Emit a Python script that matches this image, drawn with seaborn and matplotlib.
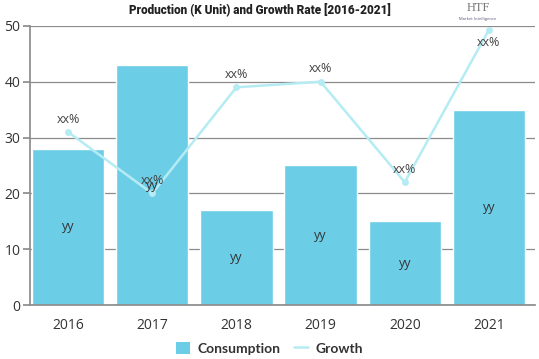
import numpy as np
import pandas as pd
import matplotlib
matplotlib.use("Agg")
import matplotlib.pyplot as plt
import seaborn as sns
from matplotlib.patches import Patch
from matplotlib.lines import Line2D

# data
years = ["2016", "2017", "2018", "2019", "2020", "2021"]
consumption = [28, 43, 17, 25, 15, 35]
growth = [31, 20, 39, 40, 22, 49.3]
bar_labels = ["yy"] * 6
growth_labels = ["xx%"] * 6

BAR_COLOR = "#6ccde7"
LINE_COLOR = "#b5ecf4"
TEXT_COLOR = "#333333"

sns.set_theme(style="white")
plt.rcParams["font.family"] = ["Open Sans", "DejaVu Sans"]

df = pd.DataFrame({"year": years, "consumption": consumption, "growth": growth})

fig = plt.figure(figsize=(5.39, 3.59), dpi=100)
ax = fig.add_axes([0.056, 0.150, 0.937, 0.778])

sns.barplot(data=df, x="year", y="consumption", color=BAR_COLOR,
            saturation=1, width=0.86, ax=ax, zorder=2)
sns.lineplot(x=np.arange(len(years)), y=df["growth"], color=LINE_COLOR,
             linewidth=1.8, marker="o", markersize=5, markeredgewidth=0,
             ax=ax, zorder=3)

# labels
for i, (c, g) in enumerate(zip(consumption, growth)):
    ax.text(i, c / 2, bar_labels[i], ha="center", va="center",
            fontsize=9, color=TEXT_COLOR, zorder=4)
    # near the top the label goes under the point
    if g > 45:
        ax.text(i, g - 2.3, growth_labels[i], ha="center", va="center",
                fontsize=9, color="#444444", zorder=4)
    else:
        ax.text(i, g + 2.3, growth_labels[i], ha="center", va="center",
                fontsize=9, color="#444444", zorder=4)

ax.set_ylim(0, 50)
ax.set_xlim(-0.45, 5.55)
ax.set_yticks(range(0, 51, 10))
ax.yaxis.grid(True, color="#8c8c8c", linewidth=0.9, zorder=0)
ax.set_axisbelow(True)
ax.set_xlabel("")
ax.set_ylabel("")
for side in ["top", "right"]:
    ax.spines[side].set_visible(False)
ax.spines["left"].set_color("#8c8c8c")
ax.spines["bottom"].set_color("#8c8c8c")
ax.tick_params(axis="y", left=True, length=5, color="#8c8c8c", labelsize=10,
               labelcolor=TEXT_COLOR, pad=2)
ax.tick_params(axis="x", bottom=False, labelsize=10, labelcolor=TEXT_COLOR, pad=3)

fig.text(0.482, 0.975, "Production (K Unit) and Growth Rate [2016-2021]",
         ha="center", va="center", fontsize=8.5, fontweight="black",
         color="#222222", family=["Roboto", "DejaVu Sans"])

# logo
fig.text(0.887, 0.978, "HTF", ha="center", va="center", fontsize=9,
         color="#777777", family=["Liberation Serif"])
fig.text(0.887, 0.948, "Market Intelligence", ha="center", va="center",
         fontsize=3, color="#555577")

handles = [Patch(facecolor=BAR_COLOR, edgecolor="none"),
           Line2D([0], [0], color=LINE_COLOR, linewidth=1.8)]
leg = fig.legend(handles, ["Consumption", "Growth"], loc="center",
                 bbox_to_anchor=(0.5, 0.03), ncol=2, frameon=False,
                 prop={"family": "Lato", "weight": "bold", "size": 10},
                 handlelength=1.0, handleheight=1.0, columnspacing=1.0,
                 handletextpad=0.5)
for t in leg.get_texts():
    t.set_color(TEXT_COLOR)

fig.savefig("out.png", dpi=100)
